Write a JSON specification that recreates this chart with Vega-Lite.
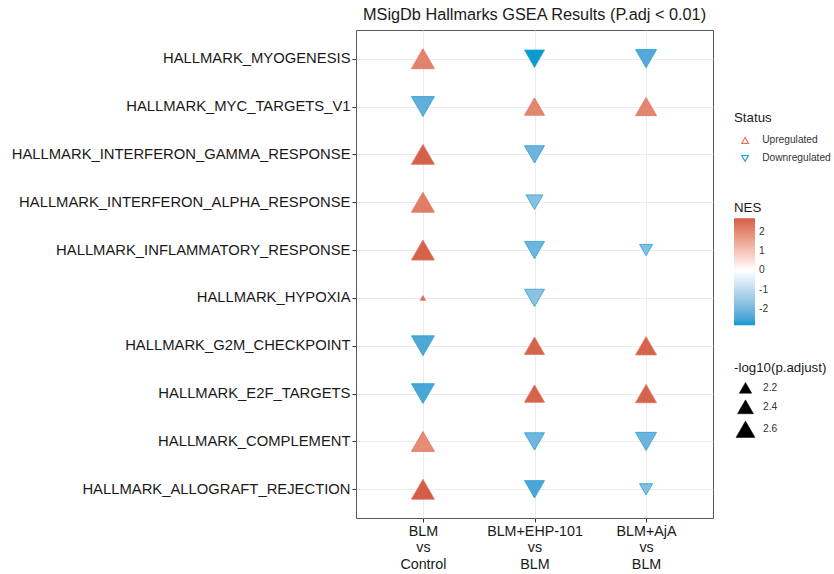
{
  "$schema": "https://vega.github.io/schema/vega-lite/v6.json",
  "autosize": {"type": "none"},
  "width": 357,
  "height": 488,
  "padding": {"left": 356, "top": 30, "right": 121, "bottom": 56},
  "background": "white",
  "title": {
    "text": "MSigDb Hallmarks GSEA Results (P.adj < 0.01)",
    "anchor": "middle",
    "fontSize": 16.3,
    "font": "Liberation Sans",
    "fontWeight": "normal",
    "color": "#1a1a1a",
    "offset": 7
  },
  "config": {
    "font": "Liberation Sans",
    "view": {"stroke": "#595959", "strokeWidth": 1},
    "axis": {
      "labelFont": "Liberation Sans",
      "labelColor": "#1a1a1a",
      "labelFontSize": 14.8,
      "tickColor": "#333333",
      "tickSize": 4,
      "labelPadding": 2,
      "domain": false,
      "gridColor": "#EBEBEB",
      "gridWidth": 1,
      "title": null
    },
    "legend": {
      "titleFont": "Liberation Sans",
      "labelFont": "Liberation Sans",
      "titleFontSize": 13.3,
      "titleFontWeight": "normal",
      "titleColor": "#1a1a1a",
      "labelFontSize": 10.2,
      "labelColor": "#333333",
      "symbolBaseFillColor": "white"
    }
  },
  "data": {
    "values": [
      {"pathway": "HALLMARK_MYOGENESIS", "comparison": "BLM vs Control", "NES": 2.1, "logp": 2.93, "Status": "Upregulated"},
      {"pathway": "HALLMARK_MYOGENESIS", "comparison": "BLM+EHP-101 vs BLM", "NES": -2.85, "logp": 2.68, "Status": "Downregulated"},
      {"pathway": "HALLMARK_MYOGENESIS", "comparison": "BLM+AjA vs BLM", "NES": -2.4, "logp": 2.76, "Status": "Downregulated"},
      {"pathway": "HALLMARK_MYC_TARGETS_V1", "comparison": "BLM vs Control", "NES": -2.25, "logp": 2.93, "Status": "Downregulated"},
      {"pathway": "HALLMARK_MYC_TARGETS_V1", "comparison": "BLM+EHP-101 vs BLM", "NES": 2.05, "logp": 2.68, "Status": "Upregulated"},
      {"pathway": "HALLMARK_MYC_TARGETS_V1", "comparison": "BLM+AjA vs BLM", "NES": 2.05, "logp": 2.76, "Status": "Upregulated"},
      {"pathway": "HALLMARK_INTERFERON_GAMMA_RESPONSE", "comparison": "BLM vs Control", "NES": 2.65, "logp": 2.93, "Status": "Upregulated"},
      {"pathway": "HALLMARK_INTERFERON_GAMMA_RESPONSE", "comparison": "BLM+EHP-101 vs BLM", "NES": -2.1, "logp": 2.68, "Status": "Downregulated"},
      {"pathway": "HALLMARK_INTERFERON_ALPHA_RESPONSE", "comparison": "BLM vs Control", "NES": 2.2, "logp": 2.93, "Status": "Upregulated"},
      {"pathway": "HALLMARK_INTERFERON_ALPHA_RESPONSE", "comparison": "BLM+EHP-101 vs BLM", "NES": -1.75, "logp": 2.46, "Status": "Downregulated"},
      {"pathway": "HALLMARK_INFLAMMATORY_RESPONSE", "comparison": "BLM vs Control", "NES": 2.65, "logp": 2.93, "Status": "Upregulated"},
      {"pathway": "HALLMARK_INFLAMMATORY_RESPONSE", "comparison": "BLM+EHP-101 vs BLM", "NES": -2.1, "logp": 2.68, "Status": "Downregulated"},
      {"pathway": "HALLMARK_INFLAMMATORY_RESPONSE", "comparison": "BLM+AjA vs BLM", "NES": -1.8, "logp": 2.23, "Status": "Downregulated"},
      {"pathway": "HALLMARK_HYPOXIA", "comparison": "BLM vs Control", "NES": 2.4, "logp": 2.01, "Status": "Upregulated"},
      {"pathway": "HALLMARK_HYPOXIA", "comparison": "BLM+EHP-101 vs BLM", "NES": -1.7, "logp": 2.68, "Status": "Downregulated"},
      {"pathway": "HALLMARK_G2M_CHECKPOINT", "comparison": "BLM vs Control", "NES": -2.45, "logp": 2.93, "Status": "Downregulated"},
      {"pathway": "HALLMARK_G2M_CHECKPOINT", "comparison": "BLM+EHP-101 vs BLM", "NES": 2.6, "logp": 2.68, "Status": "Upregulated"},
      {"pathway": "HALLMARK_G2M_CHECKPOINT", "comparison": "BLM+AjA vs BLM", "NES": 2.6, "logp": 2.76, "Status": "Upregulated"},
      {"pathway": "HALLMARK_E2F_TARGETS", "comparison": "BLM vs Control", "NES": -2.5, "logp": 2.93, "Status": "Downregulated"},
      {"pathway": "HALLMARK_E2F_TARGETS", "comparison": "BLM+EHP-101 vs BLM", "NES": 2.6, "logp": 2.68, "Status": "Upregulated"},
      {"pathway": "HALLMARK_E2F_TARGETS", "comparison": "BLM+AjA vs BLM", "NES": 2.6, "logp": 2.76, "Status": "Upregulated"},
      {"pathway": "HALLMARK_COMPLEMENT", "comparison": "BLM vs Control", "NES": 1.95, "logp": 2.93, "Status": "Upregulated"},
      {"pathway": "HALLMARK_COMPLEMENT", "comparison": "BLM+EHP-101 vs BLM", "NES": -2.05, "logp": 2.68, "Status": "Downregulated"},
      {"pathway": "HALLMARK_COMPLEMENT", "comparison": "BLM+AjA vs BLM", "NES": -2.1, "logp": 2.76, "Status": "Downregulated"},
      {"pathway": "HALLMARK_ALLOGRAFT_REJECTION", "comparison": "BLM vs Control", "NES": 2.7, "logp": 2.93, "Status": "Upregulated"},
      {"pathway": "HALLMARK_ALLOGRAFT_REJECTION", "comparison": "BLM+EHP-101 vs BLM", "NES": -2.5, "logp": 2.68, "Status": "Downregulated"},
      {"pathway": "HALLMARK_ALLOGRAFT_REJECTION", "comparison": "BLM+AjA vs BLM", "NES": -1.8, "logp": 2.23, "Status": "Downregulated"}
    ]
  },
  "mark": {"type": "point", "filled": true, "strokeWidth": 0.8, "opacity": 1},
  "encoding": {
    "x": {
      "field": "comparison",
      "type": "nominal",
      "sort": ["BLM vs Control", "BLM+EHP-101 vs BLM", "BLM+AjA vs BLM"],
      "scale": {"type": "point", "padding": 0.6},
      "axis": {
        "labelAngle": 0,
        "labelExpr": "split(datum.label, ' ')",
        "labelLineHeight": 16.5,
        "labelFontSize": 14.3,
        "grid": true
      }
    },
    "y": {
      "field": "pathway",
      "type": "nominal",
      "sort": [
        "HALLMARK_MYOGENESIS",
        "HALLMARK_MYC_TARGETS_V1",
        "HALLMARK_INTERFERON_GAMMA_RESPONSE",
        "HALLMARK_INTERFERON_ALPHA_RESPONSE",
        "HALLMARK_INFLAMMATORY_RESPONSE",
        "HALLMARK_HYPOXIA",
        "HALLMARK_G2M_CHECKPOINT",
        "HALLMARK_E2F_TARGETS",
        "HALLMARK_COMPLEMENT",
        "HALLMARK_ALLOGRAFT_REJECTION"
      ],
      "scale": {"type": "point", "padding": 0.6},
      "axis": {"grid": true, "labelLimit": 400}
    },
    "fill": {
      "field": "NES",
      "type": "quantitative",
      "title": "NES",
      "scale": {
        "domain": [-2.85, 0, 2.7],
        "range": ["#0C9ACF", "#FFFFFF", "#D35E47"],
        "interpolate": "lab"
      },
      "legend": {
        "orient": "none",
        "legendX": 378,
        "legendY": 171,
        "values": [-2, -1, 0, 1, 2],
        "labelExpr": "datum.value + ''",
        "gradientLength": 107,
        "gradientThickness": 21,
        "gradientStrokeWidth": 0,
        "titlePadding": 4,
        "labelOffset": 4,
        "direction": "vertical"
      }
    },
    "stroke": {
      "field": "Status",
      "type": "nominal",
      "title": "Status",
      "scale": {"domain": ["Upregulated", "Downregulated"], "range": ["#E07561", "#26A2D8"]},
      "legend": {
        "orient": "none",
        "legendX": 378,
        "legendY": 81,
        "symbolFillColor": "white",
        "symbolSize": 45,
        "symbolStrokeWidth": 1.2,
        "symbolOffset": 6,
        "labelOffset": 12,
        "titlePadding": 11,
        "rowPadding": 6
      }
    },
    "shape": {
      "field": "Status",
      "type": "nominal",
      "title": "Status",
      "scale": {"domain": ["Upregulated", "Downregulated"], "range": ["triangle-up", "triangle-down"]},
      "legend": {
        "orient": "none",
        "legendX": 378,
        "legendY": 81,
        "symbolFillColor": "white",
        "symbolSize": 45,
        "symbolStrokeWidth": 1.2,
        "symbolOffset": 6,
        "labelOffset": 12,
        "titlePadding": 11,
        "rowPadding": 6
      }
    },
    "size": {
      "field": "logp",
      "type": "quantitative",
      "title": "-log10(p.adjust)",
      "scale": {"domain": [2.0, 2.2, 2.4, 2.6, 2.95], "range": [22, 156, 256, 361, 540], "zero": false},
      "legend": {
        "orient": "none",
        "legendX": 378,
        "legendY": 331,
        "values": [2.2, 2.4, 2.6],
        "symbolType": "triangle-up",
        "symbolFillColor": "black",
        "symbolStrokeColor": "black",
        "symbolStrokeWidth": 0.5,
        "symbolOffset": 1.5,
        "labelOffset": 7.5,
        "titlePadding": 7,
        "rowPadding": 4
      }
    }
  }
}
